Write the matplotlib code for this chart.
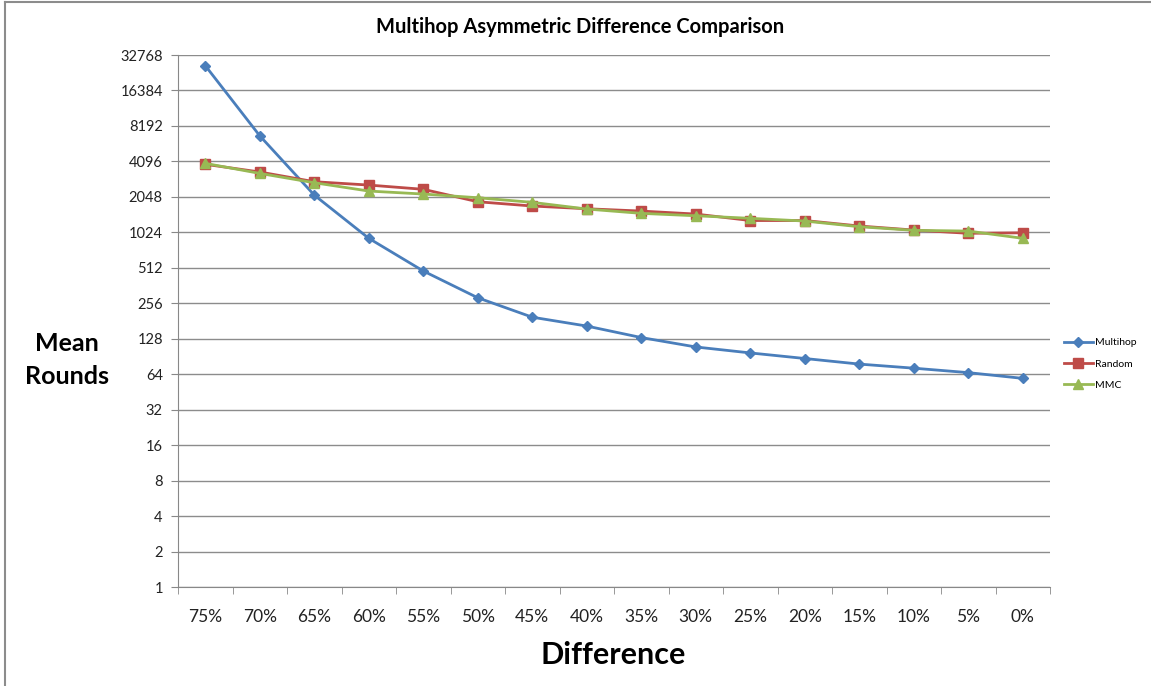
import matplotlib
matplotlib.use("Agg")
import matplotlib.pyplot as plt
from matplotlib.lines import Line2D
from matplotlib.ticker import FixedLocator, NullLocator

plt.rcParams['font.family'] = ['Lato', 'DejaVu Sans']

# data
categories = ['75%', '70%', '65%', '60%', '55%', '50%', '45%', '40%',
              '35%', '30%', '25%', '20%', '15%', '10%', '5%', '0%']
multihop = [26600, 6750, 2120, 911, 481, 285, 195, 164,
            131, 109, 97, 87, 78, 72, 66, 59]
random_sel = [3870, 3330, 2755, 2580, 2375, 1862, 1713, 1624,
              1552, 1464, 1290, 1290, 1159, 1071, 1005, 1015]
mmc = [3943, 3240, 2700, 2295, 2165, 2014, 1840, 1615,
       1484, 1416, 1347, 1277, 1143, 1065, 1050, 911]
y_ticks = [2 ** k for k in range(16)]

fig = plt.figure(figsize=(11.51, 6.86), dpi=100)
ax = fig.add_axes([0.1547, 0.1443, 0.7576, 0.7755])

x = range(len(categories))
ax.plot(x, multihop, color='#4A7EBB', lw=2.0, marker='D', ms=5, label='Multihop')
ax.plot(x, random_sel, color='#BE4B48', lw=2.0, marker='s', ms=6.5, label='Random')
ax.plot(x, mmc, color='#98B954', lw=2.0, marker='^', ms=7, label='MMC')

ax.set_yscale('log', base=2)
ax.set_ylim(1, 32768)
ax.yaxis.set_major_locator(FixedLocator(y_ticks))
ax.yaxis.set_minor_locator(NullLocator())
ax.set_yticklabels([str(v) for v in y_ticks], fontsize=10.5, color='#222222')

ax.set_xlim(-0.5, len(categories) - 0.5)
ax.set_xticks(list(x))
ax.set_xticklabels(categories, fontsize=12.5, color='#222222')
ax.set_xticks([i - 0.5 for i in range(len(categories) + 1)], minor=True)
ax.tick_params(axis='x', which='major', length=0, pad=16)
ax.tick_params(axis='x', which='minor', length=5, color='#888888')
ax.tick_params(axis='y', length=5, color='#888888', pad=6)

ax.grid(axis='y', color='#8c8c8c', lw=1.0)
ax.set_axisbelow(True)
for s in ['top', 'right']:
    ax.spines[s].set_visible(False)
for s in ['left', 'bottom']:
    ax.spines[s].set_color('#888888')

fig.text(0.504, 0.961, 'Multihop Asymmetric Difference Comparison',
         ha='center', va='center', fontsize=14.5, fontweight='bold')
fig.text(0.058, 0.475, 'Mean\nRounds', ha='center', va='center',
         fontsize=18, fontweight='bold', linespacing=1.55)
fig.text(0.533, 0.045, 'Difference', ha='center', va='center',
         fontsize=22, fontweight='bold')

ax.legend(loc='center left', bbox_to_anchor=(1.005, 0.419), frameon=False,
          fontsize=7.5, handlelength=2.8, handletextpad=0.2, labelspacing=1.15)

# chart frame, only top and left edges are visible in the screenshot
fig.lines.append(Line2D([0.0045, 0.0045], [0.0, 0.997], transform=fig.transFigure,
                        color='#8c8c8c', lw=1.5))
fig.lines.append(Line2D([0.0045, 1.0], [0.997, 0.997], transform=fig.transFigure,
                        color='#8c8c8c', lw=1.5))

fig.savefig('out.png', dpi=100)
